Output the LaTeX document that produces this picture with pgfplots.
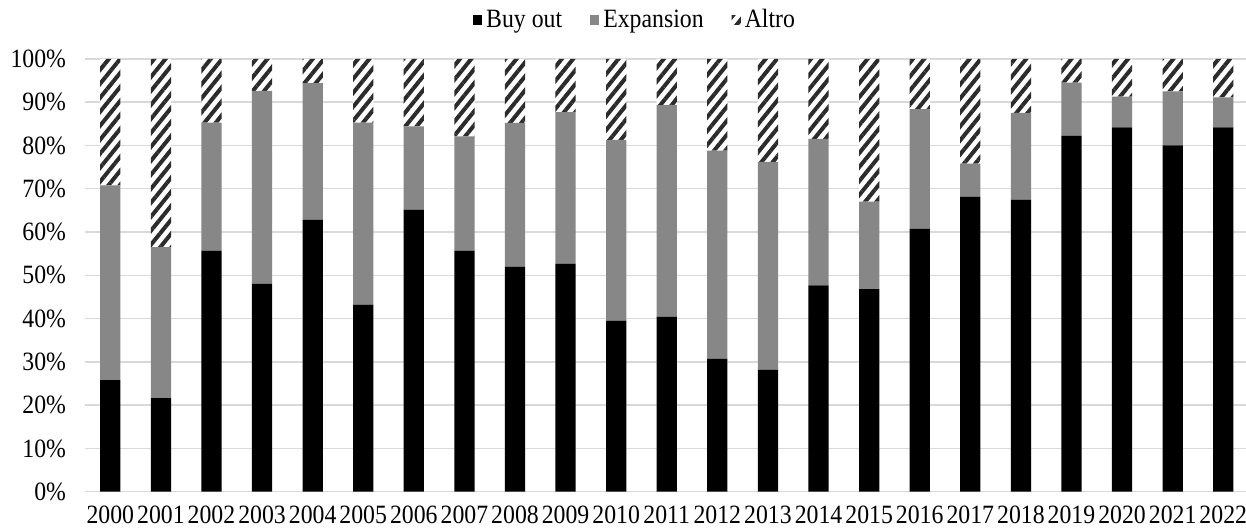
\documentclass[border=0pt]{standalone}
\usepackage{fontspec}
\setmainfont[FakeStretch=0.9]{Liberation Serif}
\usepackage{pgfplots}
\pgfplotsset{compat=1.18}
\usepackage{pgfplotstable}
\usetikzlibrary{patterns.meta}

\definecolor{expgray}{HTML}{878787}
\definecolor{gridgray}{HTML}{D9D9D9}
\definecolor{hatch}{HTML}{2B2B2B}

% shares per year (%), x = year - 2000
\pgfplotstableread{
x  buy   exp   alt
0  25.8  45.0  29.2
1  21.6  34.9  43.5
2  55.7  29.6  14.7
3  48.0  44.6   7.4
4  62.8  31.6   5.6
5  43.2  42.1  14.7
6  65.2  19.2  15.6
7  55.7  26.4  17.9
8  52.0  33.2  14.8
9  52.7  35.0  12.3
10 39.5  41.8  18.7
11 40.4  48.9  10.7
12 30.7  48.1  21.2
13 28.2  48.0  23.8
14 47.7  33.8  18.5
15 46.8  20.2  33.0
16 60.7  27.7  11.6
17 68.2   7.6  24.2
18 67.5  20.0  12.5
19 82.2  12.3   5.5
20 84.2   7.1   8.7
21 80.0  12.5   7.5
22 84.2   6.9   8.9
}\shares

\begin{document}
\begin{tikzpicture}[font=\fontsize{13.2}{15}\selectfont]
\begin{axis}[
    ybar stacked,
    bar width=0.4,
    scale only axis,
    width=580.5pt,
    height=216.4pt,
    xmin=-0.5, xmax=22.45,
    ymin=0, ymax=100,
    xtick={0,...,22},
    xticklabels={2000,2001,2002,2003,2004,2005,2006,2007,2008,2009,2010,2011,2012,2013,2014,2015,2016,2017,2018,2019,2020,2021,2022},
    ytick={0,10,...,100},
    yticklabel={\pgfmathprintnumber{\tick}\%},
    /pgf/number format/assume math mode=true,
    ymajorgrids,
    major grid style={gridgray, line width=0.75pt},
    axis line style={draw=none},
    tick style={draw=none},
    xticklabel style={yshift=-3.5pt},
    yticklabel style={xshift=-6pt},
    legend columns=-1,
    legend style={draw=none, fill=none, at={(0.4746,1.09)}, anchor=center,
        /tikz/every even column/.append style={column sep=12pt}},
    legend image code/.code={\path[#1, draw=none] (0pt,-2.3pt) rectangle (4.6pt,2.3pt);},
]
\addplot[fill=black, draw=none] table[x=x, y=buy] {\shares};
\addplot[fill=expgray, draw=none] table[x=x, y=exp] {\shares};
\addplot[fill=white, draw=none,
    postaction={pattern color=hatch, pattern={Lines[angle=51, distance=4.4pt, line width=2pt]}}]
    table[x=x, y=alt] {\shares};
\legend{Buy out, Expansion, Altro}
\end{axis}
\pgfresetboundingbox
\path[use as bounding box] (current axis.south west) ++(-42.5pt,-18.65pt) rectangle ++(623pt,264.5pt);
\end{tikzpicture}
\end{document}
